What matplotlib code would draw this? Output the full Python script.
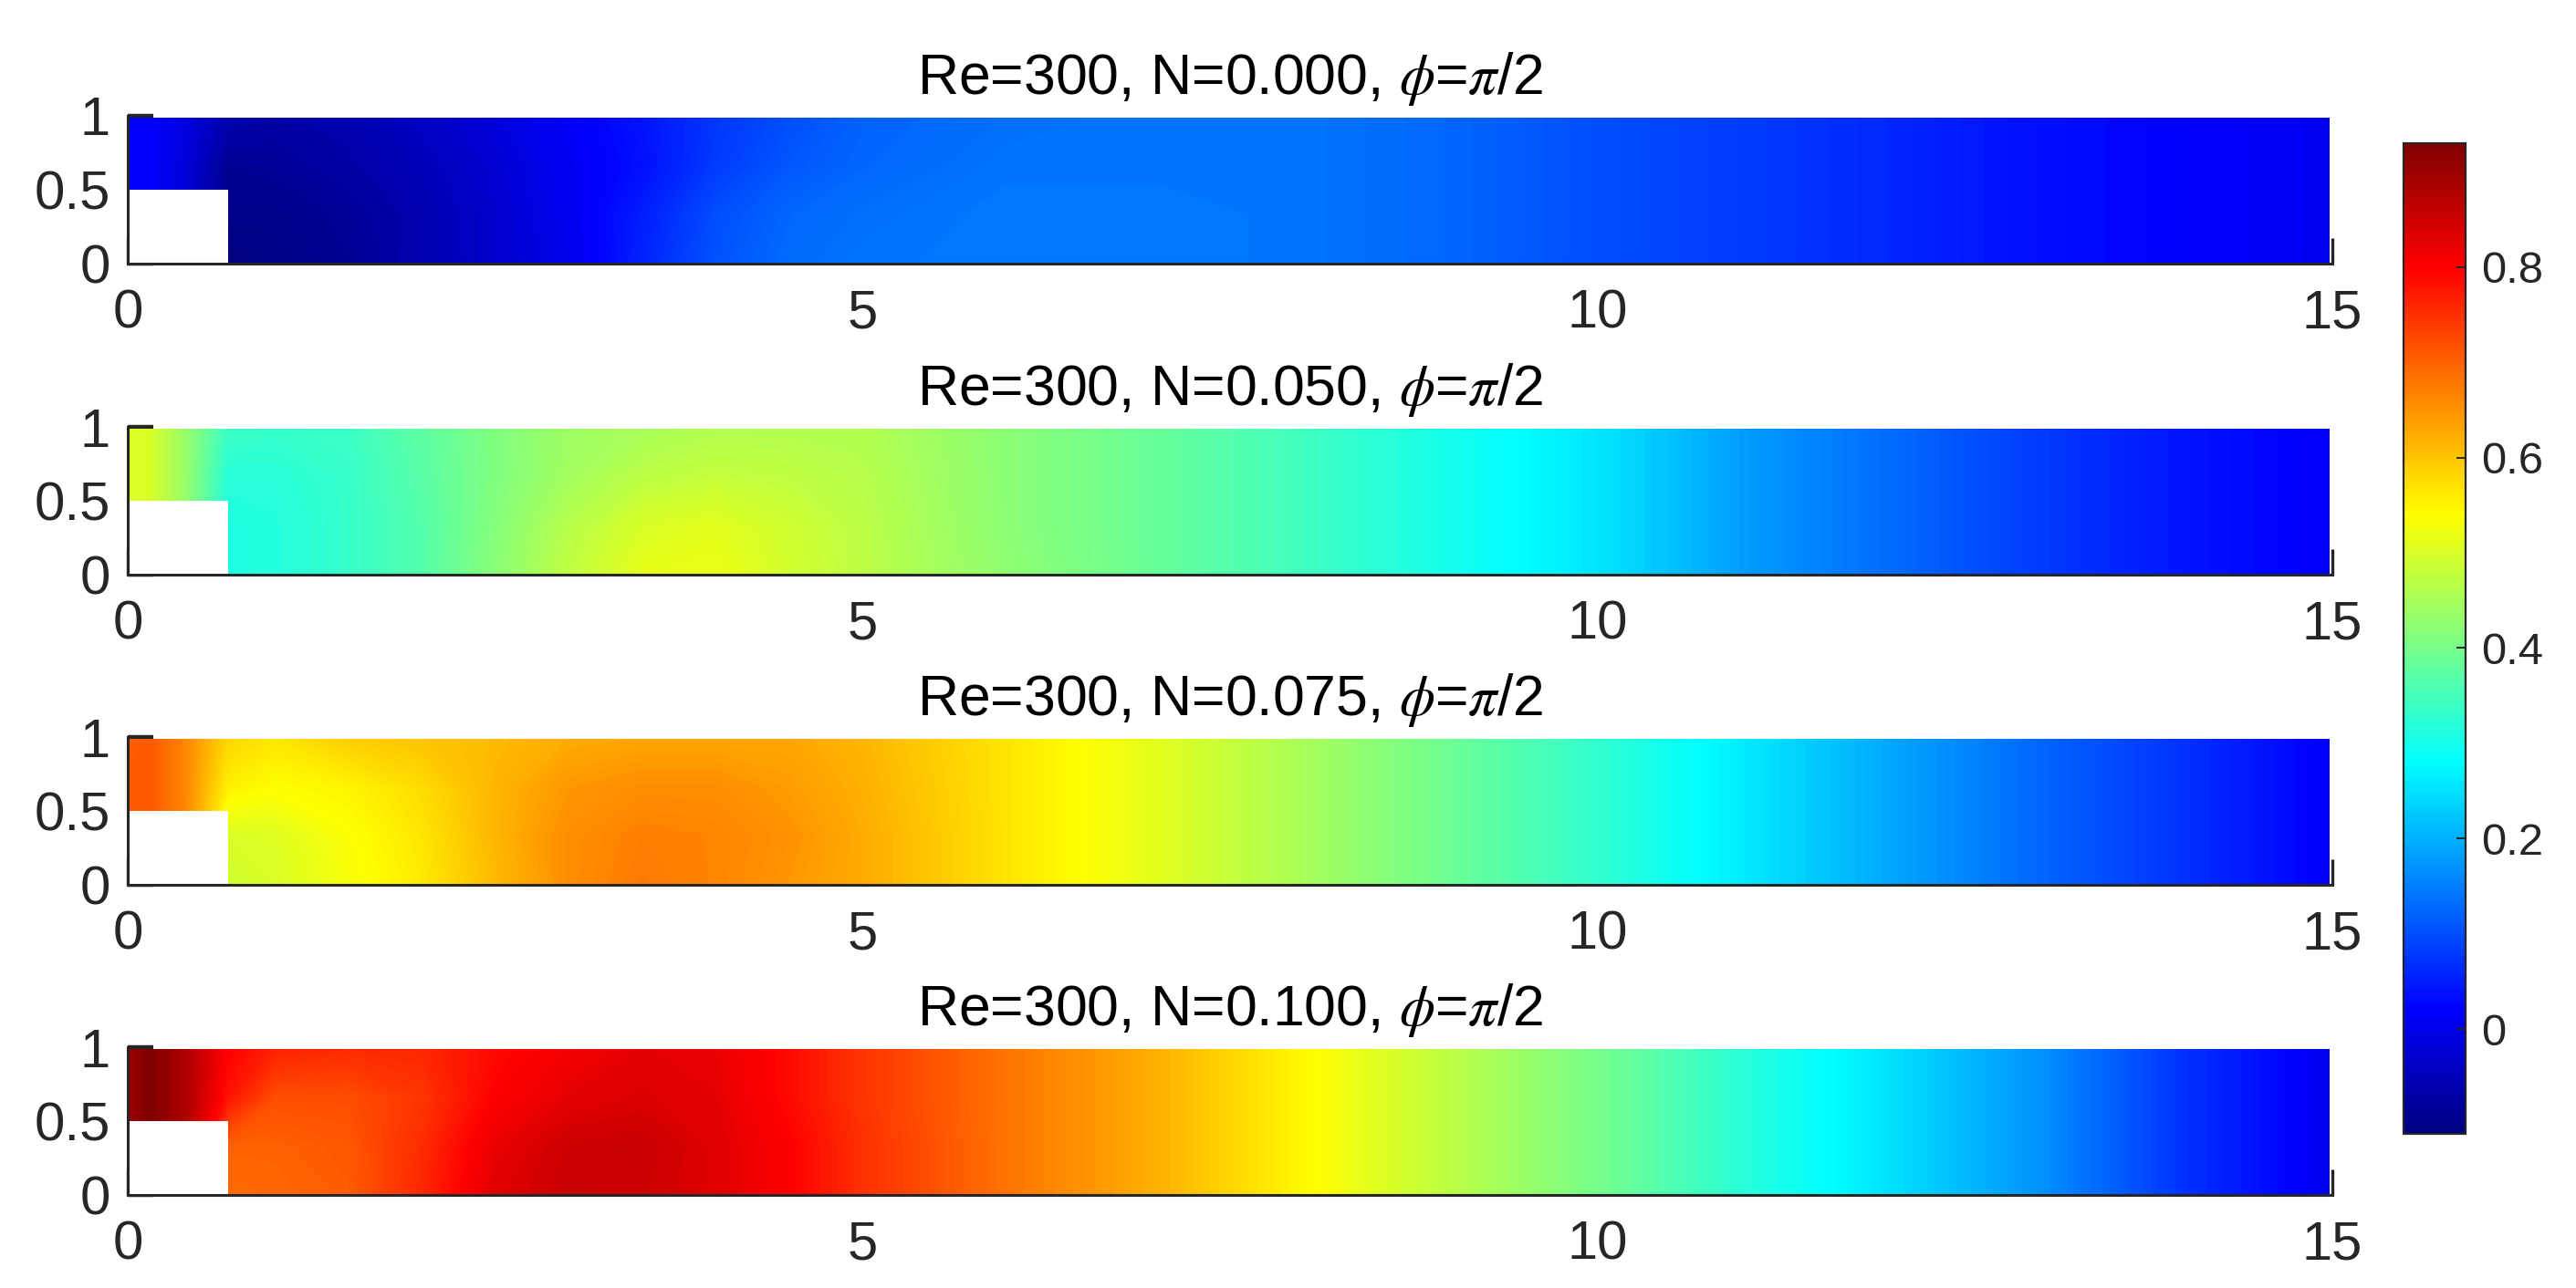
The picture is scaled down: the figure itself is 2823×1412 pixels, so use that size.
import numpy as np
import matplotlib
matplotlib.use('Agg')
import matplotlib.pyplot as plt
from matplotlib.colors import LinearSegmentedColormap, Normalize
from matplotlib.cm import ScalarMappable
from matplotlib.patches import Rectangle

plt.rcParams['font.family'] = 'Liberation Sans'
plt.rcParams['mathtext.fontset'] = 'stix'

W, H = 2823, 1412

titles = ['Re=300, N=0.000, $\\phi$=$\\pi$/2',
          'Re=300, N=0.050, $\\phi$=$\\pi$/2',
          'Re=300, N=0.075, $\\phi$=$\\pi$/2',
          'Re=300, N=0.100, $\\phi$=$\\pi$/2']

x_stations = [0, .15, .4, .68, 1, 1.5, 2, 2.5, 3, 3.5, 4, 4.5, 5, 6, 7, 8, 9, 10, 11, 12, 13, 14, 14.98]
y_rows = [0, .33, .66, .985]

# field values, rows go bottom to top
field_n000 = [
    [.02, .02, -.02, -.11, -.105, -.09, -.06, -.03, .0, .055, .105, .13, .14, .145, .145, .14, .125, .10, .08, .06, .035, .02, .01],
    [.02, .02, -.02, -.10, -.10, -.085, -.06, -.03, .005, .05, .10, .125, .135, .145, .145, .14, .125, .10, .08, .06, .035, .02, .01],
    [.02, .02, -.02, -.09, -.085, -.07, -.05, -.025, .01, .035, .08, .11, .125, .14, .14, .14, .125, .10, .08, .06, .035, .02, .01],
    [.02, .02, -.01, -.06, -.07, -.06, -.04, -.015, .015, .04, .075, .10, .12, .135, .14, .14, .125, .10, .08, .06, .035, .02, .01],
]
field_n050 = [
    [.50, .50, .43, .31, .315, .335, .365, .42, .475, .515, .52, .495, .47, .425, .385, .345, .30, .255, .18, .13, .08, .04, .015],
    [.50, .50, .43, .31, .315, .335, .365, .415, .465, .50, .51, .49, .47, .42, .385, .345, .30, .255, .18, .13, .08, .04, .015],
    [.50, .50, .43, .32, .32, .335, .37, .41, .445, .47, .48, .475, .465, .42, .385, .345, .30, .255, .18, .13, .08, .04, .015],
    [.50, .50, .43, .34, .335, .34, .375, .41, .44, .45, .46, .46, .46, .42, .385, .345, .30, .255, .18, .13, .08, .04, .015],
]
field_n075 = [
    [.71, .71, .66, .49, .50, .53, .56, .61, .655, .675, .665, .645, .625, .565, .51, .45, .39, .33, .26, .19, .125, .07, .015],
    [.71, .71, .66, .50, .505, .535, .565, .615, .655, .67, .665, .65, .625, .565, .51, .45, .39, .33, .26, .19, .125, .07, .015],
    [.71, .71, .66, .555, .54, .55, .575, .615, .645, .655, .655, .64, .62, .565, .51, .45, .39, .33, .26, .19, .125, .07, .015],
    [.70, .71, .66, .58, .565, .59, .60, .61, .625, .63, .63, .63, .615, .565, .51, .45, .39, .33, .26, .19, .125, .07, .015],
]
field_n100 = [
    [.90, .93, .88, .69, .695, .705, .76, .83, .855, .85, .83, .80, .75, .68, .62, .545, .47, .40, .32, .25, .17, .07, .005],
    [.90, .93, .88, .70, .70, .71, .755, .82, .85, .855, .83, .80, .75, .68, .62, .545, .47, .40, .32, .25, .17, .07, .005],
    [.90, .93, .88, .78, .72, .72, .745, .80, .825, .835, .825, .79, .745, .68, .62, .545, .47, .40, .32, .25, .17, .07, .005],
    [.90, .93, .88, .80, .765, .755, .76, .79, .81, .825, .82, .79, .745, .68, .62, .545, .47, .40, .32, .25, .17, .07, .005],
]
fields = [field_n000, field_n050, field_n075, field_n100]

# pixel rows of the four panels (top, bottom)
panel_rows = [(127, 289), (468, 630), (808, 970), (1148, 1310)]
ax_left, ax_right = 140, 2556
cb_left, cb_right, cb_top, cb_bottom = 2634, 2702, 157, 1243

xticks = [0, 5, 10, 15]
yticks = [0, .5, 1]
yticklabels = ['0', '0.5', '1']
cbar_ticks = [0, .2, .4, .6, .8]
cbar_labels = ['0', '0.2', '0.4', '0.6', '0.8']
vmin, vmax = -.11, .93

# matlab style jet
jet = LinearSegmentedColormap.from_list('mjet', [
    (0, (0, 0, .5)), (1/8, (0, 0, 1)), (3/8, (0, 1, 1)),
    (5/8, (1, 1, 0)), (7/8, (1, 0, 0)), (1, (.5, 0, 0))], N=256)
norm = Normalize(vmin=vmin, vmax=vmax)
levels = np.linspace(vmin, vmax, 257)

dark = '#262626'
fs = 43

fig = plt.figure(figsize=(W/100, H/100), dpi=100, facecolor='w')

for field, title, (top, bottom) in zip(fields, titles, panel_rows):
    ax = fig.add_axes([ax_left/W, 1-bottom/H, (ax_right-ax_left)/W, (bottom-top)/H])
    ax.set_axisbelow(True)
    # contourf keeps the colour interpolation in value space, so the jet knees show
    ax.contourf(x_stations, y_rows, np.array(field), levels=levels, cmap=jet, norm=norm,
                extend='both', antialiased=False, zorder=1)
    ax.add_patch(Rectangle((0, 0), .68, .5, facecolor='w', edgecolor='none', zorder=1.5))
    ax.set_xlim(0, 15)
    ax.set_ylim(0, 1)
    ax.set_xticks(xticks, [str(i) for i in xticks])
    ax.set_yticks(yticks, yticklabels)
    ax.tick_params(axis='x', direction='in', length=20, width=2.4, color=dark, labelcolor=dark, labelsize=fs, pad=20)
    ax.tick_params(axis='y', direction='in', length=20, width=3.2, color=dark, labelcolor=dark, labelsize=fs, pad=14)
    ax.spines['top'].set_visible(False)
    ax.spines['right'].set_visible(False)
    for s in ['left', 'bottom']:
        ax.spines[s].set_linewidth(2.2)
        ax.spines[s].set_color(dark)
    ax.set_title(title, fontsize=45, color='k', pad=17)

cax = fig.add_axes([cb_left/W, 1-cb_bottom/H, (cb_right-cb_left)/W, (cb_bottom-cb_top)/H])
cbar = fig.colorbar(ScalarMappable(norm=norm, cmap=jet), cax=cax)
cbar.set_ticks(cbar_ticks, labels=cbar_labels)
cbar.ax.tick_params(direction='in', length=7, width=1.4, color=dark, labelcolor=dark, labelsize=fs*.82, pad=12)
cbar.outline.set_linewidth(1.6)
cbar.outline.set_edgecolor(dark)

fig.savefig('out.png', dpi=100)
